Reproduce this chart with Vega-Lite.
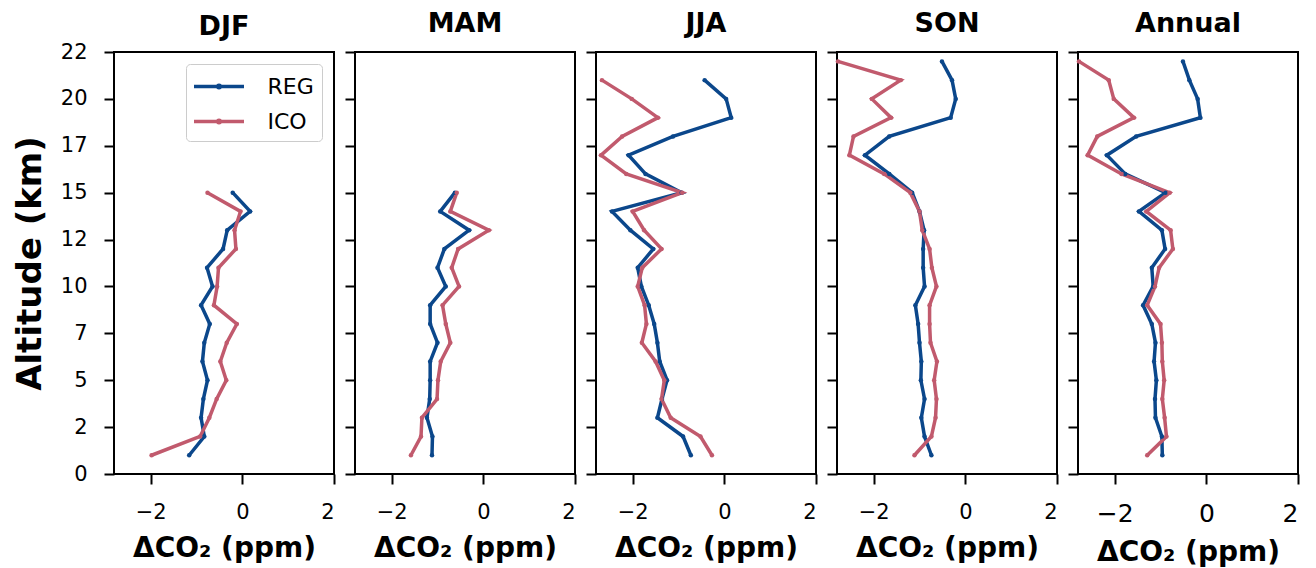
{
  "$schema": "https://vega.github.io/schema/vega-lite/v6.json",
  "background": "white",
  "padding": {"left": 12, "top": 9, "right": 5, "bottom": 5},
  "bounds": "flush",
  "spacing": 21,
  "config": {
    "font": "DejaVu Sans",
    "view": {"stroke": "black", "strokeWidth": 2},
    "axis": {"domain": false, "grid": false, "tickColor": "black", "tickWidth": 2, "tickSize": 10, "labelColor": "black", "labelFont": "DejaVu Sans", "labelFontSize": 21, "titleFont": "DejaVu Sans", "titleColor": "black"},
    "axisX": {"labelPadding": 17, "titlePadding": 12, "titleFontSize": 28, "titleFontWeight": "bold"},
    "axisY": {"labelPadding": 17, "titlePadding": 13, "titleFontSize": 34, "titleFontWeight": "bold"},
    "title": {"fontSize": 27, "fontWeight": "bold", "color": "black", "font": "DejaVu Sans", "baseline": "alphabetic", "offset": 13}
  },
  "datasets": {
    "d": [
      {"season": "DJF", "alt": 1, "REG": -1.16, "ICO": -1.98},
      {"season": "DJF", "alt": 2, "REG": -0.83, "ICO": -0.92},
      {"season": "DJF", "alt": 3, "REG": -0.90, "ICO": -0.72},
      {"season": "DJF", "alt": 4, "REG": -0.85, "ICO": -0.56},
      {"season": "DJF", "alt": 5, "REG": -0.76, "ICO": -0.35},
      {"season": "DJF", "alt": 6, "REG": -0.87, "ICO": -0.48},
      {"season": "DJF", "alt": 7, "REG": -0.83, "ICO": -0.34},
      {"season": "DJF", "alt": 8, "REG": -0.71, "ICO": -0.12},
      {"season": "DJF", "alt": 9, "REG": -0.90, "ICO": -0.62},
      {"season": "DJF", "alt": 10, "REG": -0.65, "ICO": -0.55},
      {"season": "DJF", "alt": 11, "REG": -0.77, "ICO": -0.52},
      {"season": "DJF", "alt": 12, "REG": -0.42, "ICO": -0.14},
      {"season": "DJF", "alt": 13, "REG": -0.33, "ICO": -0.17},
      {"season": "DJF", "alt": 14, "REG": 0.17, "ICO": -0.04},
      {"season": "DJF", "alt": 15, "REG": -0.21, "ICO": -0.76},
      {"season": "MAM", "alt": 1, "REG": -1.12, "ICO": -1.58},
      {"season": "MAM", "alt": 2, "REG": -1.11, "ICO": -1.36},
      {"season": "MAM", "alt": 3, "REG": -1.23, "ICO": -1.34},
      {"season": "MAM", "alt": 4, "REG": -1.17, "ICO": -1.01},
      {"season": "MAM", "alt": 5, "REG": -1.16, "ICO": -0.99},
      {"season": "MAM", "alt": 6, "REG": -1.16, "ICO": -0.93},
      {"season": "MAM", "alt": 7, "REG": -1.00, "ICO": -0.72},
      {"season": "MAM", "alt": 8, "REG": -1.16, "ICO": -0.82},
      {"season": "MAM", "alt": 9, "REG": -1.16, "ICO": -0.89},
      {"season": "MAM", "alt": 10, "REG": -0.82, "ICO": -0.53},
      {"season": "MAM", "alt": 11, "REG": -1.00, "ICO": -0.69},
      {"season": "MAM", "alt": 12, "REG": -0.85, "ICO": -0.55},
      {"season": "MAM", "alt": 13, "REG": -0.31, "ICO": 0.12},
      {"season": "MAM", "alt": 14, "REG": -0.94, "ICO": -0.72},
      {"season": "MAM", "alt": 15, "REG": -0.62, "ICO": -0.58},
      {"season": "JJA", "alt": 1, "REG": -0.73, "ICO": -0.27},
      {"season": "JJA", "alt": 2, "REG": -0.90, "ICO": -0.52},
      {"season": "JJA", "alt": 3, "REG": -1.46, "ICO": -1.17},
      {"season": "JJA", "alt": 4, "REG": -1.36, "ICO": -1.37},
      {"season": "JJA", "alt": 5, "REG": -1.25, "ICO": -1.31},
      {"season": "JJA", "alt": 6, "REG": -1.41, "ICO": -1.50},
      {"season": "JJA", "alt": 7, "REG": -1.46, "ICO": -1.80},
      {"season": "JJA", "alt": 8, "REG": -1.53, "ICO": -1.70},
      {"season": "JJA", "alt": 9, "REG": -1.65, "ICO": -1.74},
      {"season": "JJA", "alt": 10, "REG": -1.81, "ICO": -1.89},
      {"season": "JJA", "alt": 11, "REG": -1.89, "ICO": -1.79},
      {"season": "JJA", "alt": 12, "REG": -1.55, "ICO": -1.37},
      {"season": "JJA", "alt": 13, "REG": -2.05, "ICO": -1.75},
      {"season": "JJA", "alt": 14, "REG": -2.45, "ICO": -2.00},
      {"season": "JJA", "alt": 15, "REG": -0.93, "ICO": -0.92},
      {"season": "JJA", "alt": 16, "REG": -1.72, "ICO": -2.14},
      {"season": "JJA", "alt": 17, "REG": -2.09, "ICO": -2.69},
      {"season": "JJA", "alt": 18, "REG": -1.12, "ICO": -2.23},
      {"season": "JJA", "alt": 19, "REG": 0.15, "ICO": -1.45},
      {"season": "JJA", "alt": 20, "REG": 0.04, "ICO": -2.02},
      {"season": "JJA", "alt": 21, "REG": -0.43, "ICO": -2.67},
      {"season": "SON", "alt": 1, "REG": -0.74, "ICO": -1.11},
      {"season": "SON", "alt": 2, "REG": -0.89, "ICO": -0.74},
      {"season": "SON", "alt": 3, "REG": -0.96, "ICO": -0.65},
      {"season": "SON", "alt": 4, "REG": -0.89, "ICO": -0.63},
      {"season": "SON", "alt": 5, "REG": -0.97, "ICO": -0.68},
      {"season": "SON", "alt": 6, "REG": -0.96, "ICO": -0.62},
      {"season": "SON", "alt": 7, "REG": -1.00, "ICO": -0.76},
      {"season": "SON", "alt": 8, "REG": -1.03, "ICO": -0.78},
      {"season": "SON", "alt": 9, "REG": -1.09, "ICO": -0.78},
      {"season": "SON", "alt": 10, "REG": -0.89, "ICO": -0.63},
      {"season": "SON", "alt": 11, "REG": -0.92, "ICO": -0.73},
      {"season": "SON", "alt": 12, "REG": -0.92, "ICO": -0.78},
      {"season": "SON", "alt": 13, "REG": -0.90, "ICO": -0.94},
      {"season": "SON", "alt": 14, "REG": -1.00, "ICO": -1.00},
      {"season": "SON", "alt": 15, "REG": -1.16, "ICO": -1.20},
      {"season": "SON", "alt": 16, "REG": -1.66, "ICO": -1.77},
      {"season": "SON", "alt": 17, "REG": -2.19, "ICO": -2.53},
      {"season": "SON", "alt": 18, "REG": -1.66, "ICO": -2.44},
      {"season": "SON", "alt": 19, "REG": -0.32, "ICO": -1.62},
      {"season": "SON", "alt": 20, "REG": -0.21, "ICO": -2.04},
      {"season": "SON", "alt": 21, "REG": -0.29, "ICO": -1.41},
      {"season": "SON", "alt": 22, "REG": -0.51, "ICO": -2.78},
      {"season": "Annual", "alt": 1, "REG": -0.96, "ICO": -1.29},
      {"season": "Annual", "alt": 2, "REG": -0.97, "ICO": -0.87},
      {"season": "Annual", "alt": 3, "REG": -1.11, "ICO": -0.91},
      {"season": "Annual", "alt": 4, "REG": -1.12, "ICO": -0.96},
      {"season": "Annual", "alt": 5, "REG": -1.09, "ICO": -0.92},
      {"season": "Annual", "alt": 6, "REG": -1.14, "ICO": -0.96},
      {"season": "Annual", "alt": 7, "REG": -1.11, "ICO": -0.97},
      {"season": "Annual", "alt": 8, "REG": -1.19, "ICO": -1.00},
      {"season": "Annual", "alt": 9, "REG": -1.38, "ICO": -1.29},
      {"season": "Annual", "alt": 10, "REG": -1.16, "ICO": -1.12},
      {"season": "Annual", "alt": 11, "REG": -1.19, "ICO": -1.03},
      {"season": "Annual", "alt": 12, "REG": -0.90, "ICO": -0.73},
      {"season": "Annual", "alt": 13, "REG": -0.97, "ICO": -0.78},
      {"season": "Annual", "alt": 14, "REG": -1.47, "ICO": -1.31},
      {"season": "Annual", "alt": 15, "REG": -0.89, "ICO": -0.80},
      {"season": "Annual", "alt": 16, "REG": -1.77, "ICO": -1.85},
      {"season": "Annual", "alt": 17, "REG": -2.17, "ICO": -2.59},
      {"season": "Annual", "alt": 18, "REG": -1.53, "ICO": -2.38},
      {"season": "Annual", "alt": 19, "REG": -0.13, "ICO": -1.58},
      {"season": "Annual", "alt": 20, "REG": -0.19, "ICO": -2.02},
      {"season": "Annual", "alt": 21, "REG": -0.37, "ICO": -2.13},
      {"season": "Annual", "alt": 22, "REG": -0.51, "ICO": -2.78}
    ]
  },
  "resolve": {"legend": {"color": "independent"}},
  "hconcat": [
    {
      "title": {"text": "DJF", "offset": 0},
      "width": 220, "height": 422,
      "data": {"name": "d"},
      "transform": [{"filter": "datum.season == 'DJF'"}, {"fold": ["REG", "ICO"], "as": ["model", "dco2"]}],
      "encoding": {
        "x": {"field": "dco2", "type": "quantitative", "scale": {"domain": [-2.8, 2], "nice": false, "zero": false}, "axis": {"values": [-2, 0, 2], "title": "ΔCO₂ (ppm)"}},
        "y": {"field": "alt", "type": "quantitative", "scale": {"domain": [0, 22.5], "nice": false}, "axis": {"values": [0, 2.5, 5, 7.5, 10, 12.5, 15, 17.5, 20, 22.5], "labelExpr": "floor(datum.value)", "title": "Altitude (km)"}},
        "color": {"field": "model", "type": "nominal", "scale": {"domain": ["REG", "ICO"], "range": ["#0b478b", "#c15a6d"]},
          "legend": {"title": null, "orient": "top-right", "offset": 12, "labelFontSize": 22, "labelColor": "black", "labelFont": "DejaVu Sans", "symbolType": "M-2,0L2,0M0.1,0A0.1,0.1,0,1,1,-0.1,0A0.1,0.1,0,1,1,0.1,0Z", "symbolSize": 625, "symbolStrokeWidth": 3.5, "symbolOffset": 10.5, "strokeColor": "#cccccc", "fillColor": "rgba(255,255,255,0.85)", "cornerRadius": 4, "padding": 8, "rowPadding": 9, "labelOffset": 34}},
        "order": {"field": "alt", "type": "quantitative"}
      },
      "layer": [
        {"mark": {"type": "line", "strokeWidth": 3.5}},
        {"mark": {"type": "point", "filled": true, "size": 20, "opacity": 1}}
      ]
    },
    {
      "title": "MAM",
      "width": 220, "height": 422,
      "data": {"name": "d"},
      "transform": [{"filter": "datum.season == 'MAM'"}, {"fold": ["REG", "ICO"], "as": ["model", "dco2"]}],
      "encoding": {
        "x": {"field": "dco2", "type": "quantitative", "scale": {"domain": [-2.8, 2], "nice": false, "zero": false}, "axis": {"values": [-2, 0, 2], "title": "ΔCO₂ (ppm)"}},
        "y": {"field": "alt", "type": "quantitative", "scale": {"domain": [0, 22.5], "nice": false}, "axis": {"values": [0, 2.5, 5, 7.5, 10, 12.5, 15, 17.5, 20, 22.5], "labels": false, "title": null}},
        "color": {"field": "model", "type": "nominal", "scale": {"domain": ["REG", "ICO"], "range": ["#0b478b", "#c15a6d"]}, "legend": null},
        "order": {"field": "alt", "type": "quantitative"}
      },
      "layer": [
        {"mark": {"type": "line", "strokeWidth": 3.5}},
        {"mark": {"type": "point", "filled": true, "size": 20, "opacity": 1}}
      ]
    },
    {
      "title": "JJA",
      "width": 220, "height": 422,
      "data": {"name": "d"},
      "transform": [{"filter": "datum.season == 'JJA'"}, {"fold": ["REG", "ICO"], "as": ["model", "dco2"]}],
      "encoding": {
        "x": {"field": "dco2", "type": "quantitative", "scale": {"domain": [-2.8, 2], "nice": false, "zero": false}, "axis": {"values": [-2, 0, 2], "title": "ΔCO₂ (ppm)"}},
        "y": {"field": "alt", "type": "quantitative", "scale": {"domain": [0, 22.5], "nice": false}, "axis": {"values": [0, 2.5, 5, 7.5, 10, 12.5, 15, 17.5, 20, 22.5], "labels": false, "title": null}},
        "color": {"field": "model", "type": "nominal", "scale": {"domain": ["REG", "ICO"], "range": ["#0b478b", "#c15a6d"]}, "legend": null},
        "order": {"field": "alt", "type": "quantitative"}
      },
      "layer": [
        {"mark": {"type": "line", "strokeWidth": 3.5}},
        {"mark": {"type": "point", "filled": true, "size": 20, "opacity": 1}}
      ]
    },
    {
      "title": "SON",
      "width": 220, "height": 422,
      "data": {"name": "d"},
      "transform": [{"filter": "datum.season == 'SON'"}, {"fold": ["REG", "ICO"], "as": ["model", "dco2"]}],
      "encoding": {
        "x": {"field": "dco2", "type": "quantitative", "scale": {"domain": [-2.8, 2], "nice": false, "zero": false}, "axis": {"values": [-2, 0, 2], "title": "ΔCO₂ (ppm)"}},
        "y": {"field": "alt", "type": "quantitative", "scale": {"domain": [0, 22.5], "nice": false}, "axis": {"values": [0, 2.5, 5, 7.5, 10, 12.5, 15, 17.5, 20, 22.5], "labels": false, "title": null}},
        "color": {"field": "model", "type": "nominal", "scale": {"domain": ["REG", "ICO"], "range": ["#0b478b", "#c15a6d"]}, "legend": null},
        "order": {"field": "alt", "type": "quantitative"}
      },
      "layer": [
        {"mark": {"type": "line", "strokeWidth": 3.5}},
        {"mark": {"type": "point", "filled": true, "size": 20, "opacity": 1}}
      ]
    },
    {
      "title": "Annual",
      "width": 220, "height": 422,
      "data": {"name": "d"},
      "transform": [{"filter": "datum.season == 'Annual'"}, {"fold": ["REG", "ICO"], "as": ["model", "dco2"]}],
      "encoding": {
        "x": {"field": "dco2", "type": "quantitative", "scale": {"domain": [-2.8, 2], "nice": false, "zero": false}, "axis": {"values": [-2, 0, 2], "title": "ΔCO₂ (ppm)", "labelFontSize": 25}},
        "y": {"field": "alt", "type": "quantitative", "scale": {"domain": [0, 22.5], "nice": false}, "axis": {"values": [0, 2.5, 5, 7.5, 10, 12.5, 15, 17.5, 20, 22.5], "labels": false, "title": null}},
        "color": {"field": "model", "type": "nominal", "scale": {"domain": ["REG", "ICO"], "range": ["#0b478b", "#c15a6d"]}, "legend": null},
        "order": {"field": "alt", "type": "quantitative"}
      },
      "layer": [
        {"mark": {"type": "line", "strokeWidth": 3.5}},
        {"mark": {"type": "point", "filled": true, "size": 20, "opacity": 1}}
      ]
    }
  ]
}
